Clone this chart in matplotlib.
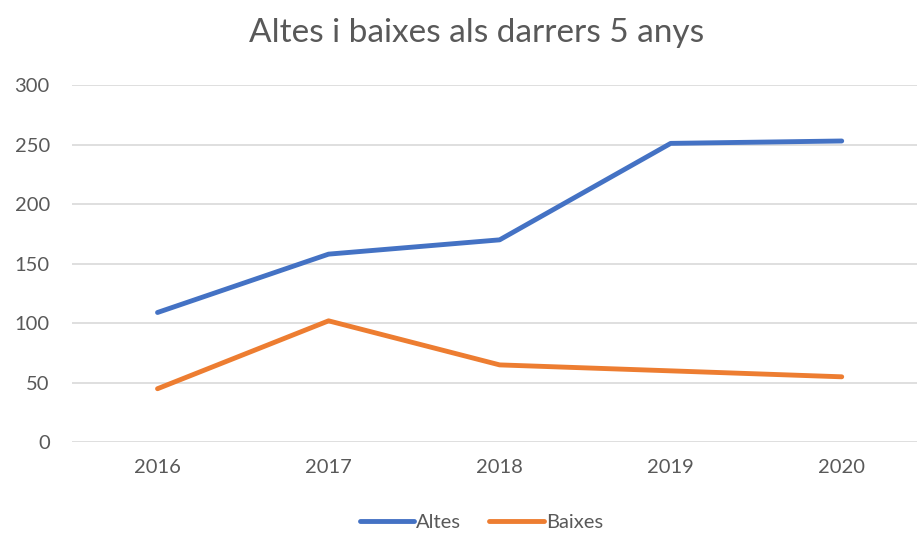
import matplotlib.pyplot as plt

# Dades
anys = ["2016", "2017", "2018", "2019", "2020"]
altes = [109, 158, 170, 251, 253]
baixes = [45, 102, 65, 60, 55]

plt.rcParams['font.family'] = ['Lato', 'DejaVu Sans']

fig = plt.figure(figsize=(9.17, 5.34), dpi=100)
ax = fig.add_axes([72 / 917, 0.1717, 1 - 72 / 917, 0.6691])

xs = range(len(anys))
ax.plot(xs, altes, color="#4472C4", lw=3.5, solid_capstyle="round",
        solid_joinstyle="round", label="Altes", zorder=3)
ax.plot(xs, baixes, color="#ED7D31", lw=3.5, solid_capstyle="round",
        solid_joinstyle="round", label="Baixes", zorder=3)

ax.set_xlim(-0.5, 4.44)
ax.set_ylim(0, 300)
ax.set_yticks(range(0, 301, 50))
ax.set_xticks(list(xs))
ax.set_xticklabels(anys)
ax.grid(axis="y", color="#D9D9D9", lw=1.2)
ax.set_axisbelow(True)
for s in ax.spines.values():
    s.set_visible(False)
ax.tick_params(length=0, colors="#595959", labelsize=14.5)
ax.tick_params(axis="y", pad=16)
ax.tick_params(axis="x", pad=12)

fig.text(0.52, 0.938, "Altes i baixes als darrers 5 anys", ha="center",
         va="center", fontsize=24, color="#595959")

fig.legend(loc="center", bbox_to_anchor=(0.525, 0.022), ncol=2, frameon=False,
           fontsize=14.5, handlelength=2.7, handletextpad=0.1, columnspacing=1.4,
           labelcolor="#595959")

fig.savefig("out.png", dpi=100)
